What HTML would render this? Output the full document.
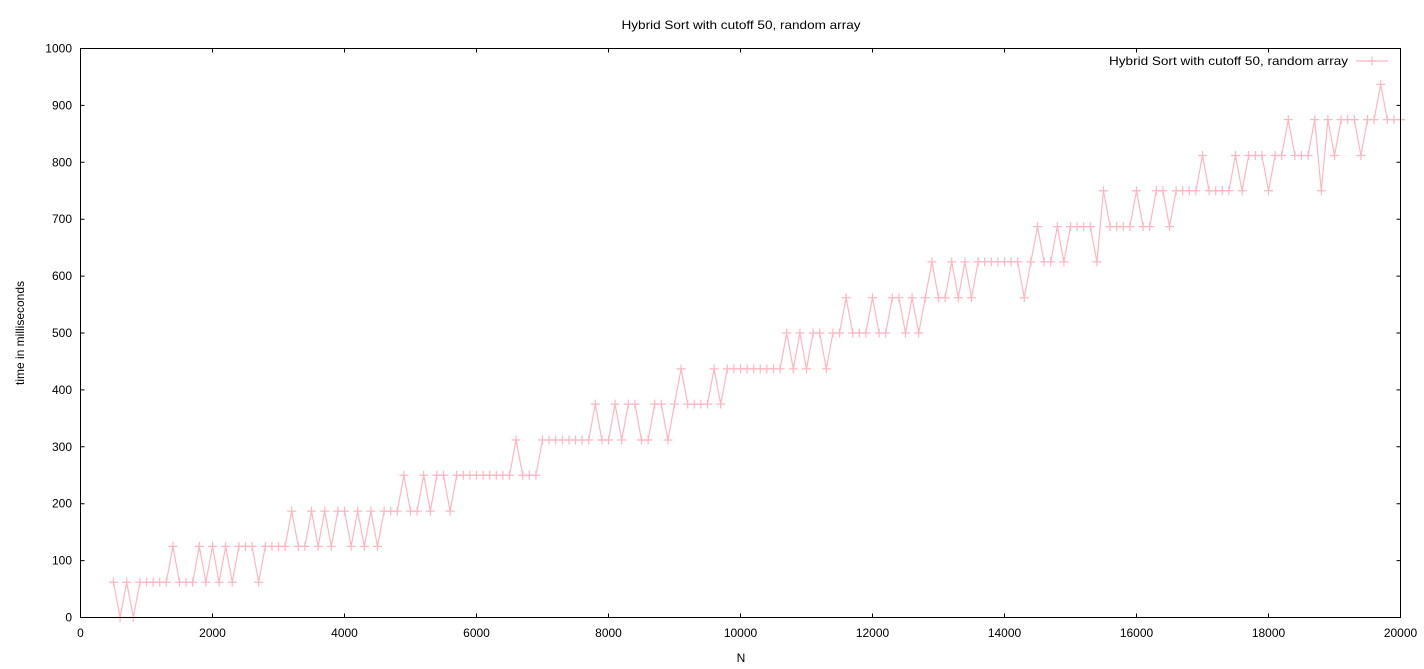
<!DOCTYPE html>
<html><head><meta charset="utf-8"><style>
html,body{margin:0;padding:0;background:#fff;}
svg{display:block;font-family:"Liberation Sans","DejaVu Sans",sans-serif;font-size:12px;}
</style></head><body>
<svg id="chart" width="1424" height="669" viewBox="0 0 1424 669" xmlns="http://www.w3.org/2000/svg">
<rect width="1424" height="669" fill="#fff"/>
<text x="741" y="29" text-anchor="middle" textLength="239" lengthAdjust="spacingAndGlyphs">Hybrid Sort with cutoff 50, random array</text>
<text x="0" y="0" text-anchor="middle" transform="translate(24,333) rotate(-90)">time in milliseconds</text>
<text x="741" y="662" text-anchor="middle">N</text>
<g id="axes"></g>
<g id="series"></g>
<g>
<text x="1348" y="65" text-anchor="end" textLength="239" lengthAdjust="spacingAndGlyphs">Hybrid Sort with cutoff 50, random array</text>
<line x1="1356" y1="61" x2="1388" y2="61" stroke="#ffb6c1" stroke-width="1.2"/>
<path d="M1367.5 61h9M1372 56.5v9" stroke="#ffb6c1" stroke-width="1.2"/>
</g>
<rect x="80.5" y="48.5" width="1320" height="569" fill="none" stroke="#000" stroke-width="1"/>
</svg>
<script>
const startN = 500;
const stepN = 100;
const timeValues = [
62,0,62,0,62,62,62,62,62,
125,62,62,62,125,62,125,62,125,62,
125,125,125,62,125,125,125,125,187,125,
125,187,125,187,125,187,187,125,187,125,
187,125,187,187,187,250,187,187,250,187,
250,250,187,250,250,250,250,250,250,250,
250,250,312,250,250,250,312,312,312,312,
312,312,312,312,375,312,312,375,312,375,
375,312,312,375,375,312,375,437,375,375,
375,375,437,375,437,437,437,437,437,437,
437,437,437,500,437,500,437,500,500,437,
500,500,562,500,500,500,562,500,500,562,
562,500,562,500,562,625,562,562,625,562,
625,562,625,625,625,625,625,625,625,562,
625,687,625,625,687,625,687,687,687,687,
625,750,687,687,687,687,750,687,687,750,
750,687,750,750,750,750,812,750,750,750,
750,812,750,812,812,812,750,812,812,875,
812,812,812,875,750,875,812,875,875,875,
812,875,875,937,875,875,875
];
const xTicks = [0,2000,4000,6000,8000,10000,12000,14000,16000,18000,20000];
const yTicks = [0,100,200,300,400,500,600,700,800,900,1000];

const X0 = 80.5, X1 = 1400.5, Y0 = 617.5, Y1 = 48.5;
function xs(v){ return X0 + (v - 0) / 20000 * (X1 - X0); }
function ys(v){ return Y0 - (v - 0) / 1000 * (Y0 - Y1); }
const NS = "http://www.w3.org/2000/svg";
const axes = document.getElementById('axes');
const series = document.getElementById('series');

yTicks.forEach(function(t){
  const y = ys(t);
  const l = document.createElementNS(NS,'path');
  l.setAttribute('d','M'+X0+' '+y+'h4M'+X1+' '+y+'h-4');
  l.setAttribute('stroke','#000');
  
  
  axes.appendChild(l);
  const tx = document.createElementNS(NS,'text');
  tx.setAttribute('x', 72);
  tx.setAttribute('y', y + 4);
  tx.setAttribute('text-anchor','end');
  tx.textContent = t;
  
  
  axes.appendChild(tx);
});
xTicks.forEach(function(t){
  const x = xs(t);
  const l = document.createElementNS(NS,'path');
  l.setAttribute('d','M'+x+' '+Y0+'v-4M'+x+' '+Y1+'v4');
  l.setAttribute('stroke','#000');
  
  
  axes.appendChild(l);
  const tx = document.createElementNS(NS,'text');
  tx.setAttribute('x', x);
  tx.setAttribute('y', 637);
  tx.setAttribute('text-anchor','middle');
  tx.textContent = t;
  
  
  axes.appendChild(tx);
});

let d = '';
let marks = '';
timeValues.forEach(function(v, i){
  const x = xs(startN + i * stepN), y = ys(v);
  d += (i ? 'L' : 'M') + x.toFixed(2) + ' ' + y.toFixed(2);
  marks += 'M' + (x - 4.5).toFixed(2) + ' ' + y.toFixed(2) + 'h9M' + x.toFixed(2) + ' ' + (y - 4.5).toFixed(2) + 'v9';
});
const line = document.createElementNS(NS,'path');
line.setAttribute('d', d);
line.setAttribute('fill','none');
line.setAttribute('stroke','#ffb6c1');
line.setAttribute('stroke-width','1.2');


series.appendChild(line);
const pts = document.createElementNS(NS,'path');
pts.setAttribute('d', marks);
pts.setAttribute('fill','none');
pts.setAttribute('stroke','#ffb6c1');
pts.setAttribute('stroke-width','1.2');


series.appendChild(pts);
</script>
</body></html>
